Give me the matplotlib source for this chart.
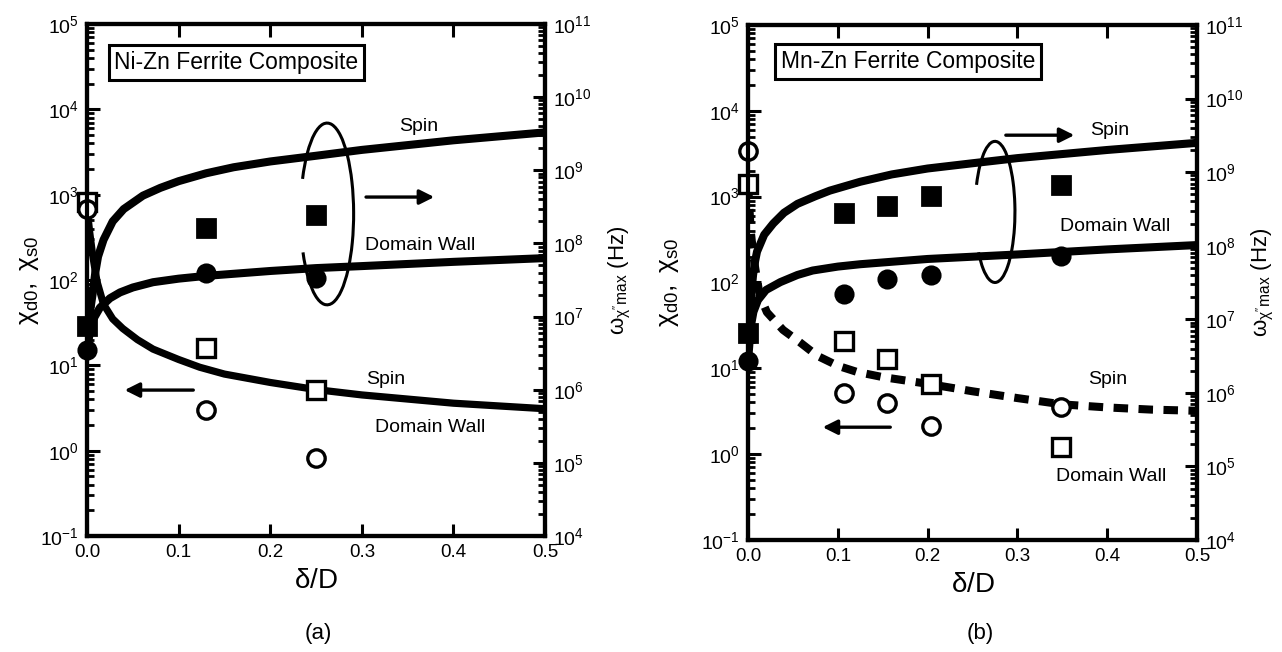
import numpy as np
import matplotlib
matplotlib.use('Agg')
import matplotlib.pyplot as plt
from matplotlib.patches import Arc
from matplotlib.ticker import LogLocator, FuncFormatter, NullFormatter

plt.rcParams['font.family'] = ['Liberation Sans', 'DejaVu Sans']
plt.rcParams['mathtext.fontset'] = 'custom'
plt.rcParams['mathtext.rm'] = 'Liberation Sans'
plt.rcParams['mathtext.it'] = 'Liberation Sans'
plt.rcParams['mathtext.bf'] = 'Liberation Sans:bold'
plt.rcParams['mathtext.default'] = 'regular'

# ---- (a) Ni-Zn ferrite composite ----
# model curves
spin_a_x = [0.0, 0.003, 0.006, 0.009, 0.012, 0.018, 0.028, 0.04, 0.061, 0.08,
            0.1, 0.13, 0.16, 0.2, 0.25, 0.3, 0.4, 0.5]
spin_a_hz = [7.4e6, 1.12e7, 2.0e7, 4.0e7, 6.6e7, 1.12e8, 2.0e8, 2.95e8, 4.5e8, 5.75e8,
             7.1e8, 9.1e8, 1.1e9, 1.32e9, 1.58e9, 1.9e9, 2.57e9, 3.3e9]
dw_a_x = [0.0, 0.003, 0.007, 0.014, 0.025, 0.036, 0.05, 0.072, 0.1, 0.13,
          0.2, 0.25, 0.3, 0.4, 0.5]
dw_a_hz = [3.6e6, 6.0e6, 9.3e6, 1.32e7, 1.78e7, 2.14e7, 2.5e7, 2.95e7, 3.3e7, 3.6e7,
           4.2e7, 4.6e7, 4.9e7, 5.6e7, 6.3e7]
chi_a_x = [0.0, 0.003, 0.006, 0.009, 0.011, 0.018, 0.028, 0.039, 0.055, 0.072,
           0.1, 0.123, 0.15, 0.2, 0.25, 0.3, 0.4, 0.5]
chi_a = [690, 355, 200, 126, 95, 52, 35, 27, 20, 15.5,
         11.7, 9.5, 7.9, 6.3, 5.2, 4.5, 3.6, 3.1]
# measured points
pts_a_x = [0.0, 0.13, 0.25]
chi_dw_a = [810, 16, 5.2]        # open squares
chi_sp_a = [675, 3.0, 0.81]      # open circles
w_dw_a = [7.4e6, 1.62e8, 2.45e8]  # filled squares
w_sp_a = [3.5e6, 4.0e7, 3.4e7]    # filled circles

# ---- (b) Mn-Zn ferrite composite ----
spin_b_x = [0.0, 0.002, 0.004, 0.0056, 0.008, 0.01, 0.018, 0.028, 0.04, 0.055,
            0.075, 0.091, 0.125, 0.16, 0.2, 0.25, 0.3, 0.4, 0.5]
spin_b_hz = [6.6e6, 1.26e7, 2.5e7, 4.0e7, 6.3e7, 8.3e7, 1.41e8, 2.0e8, 2.8e8, 3.7e8,
             4.7e8, 5.6e8, 7.4e8, 9.3e8, 1.12e9, 1.32e9, 1.55e9, 2.0e9, 2.5e9]
dw_b_x = [0.0, 0.003, 0.006, 0.011, 0.02, 0.036, 0.055, 0.072, 0.1, 0.125,
          0.2, 0.3, 0.4, 0.5]
dw_b_hz = [2.7e6, 7.9e6, 1.26e7, 1.82e7, 2.5e7, 3.2e7, 4.0e7, 4.6e7, 5.2e7, 5.6e7,
           6.6e7, 7.6e7, 8.9e7, 1.02e8]
chi_b_x = [0.0, 0.003, 0.006, 0.009, 0.013, 0.021, 0.039, 0.058, 0.077, 0.1,
           0.121, 0.15, 0.2, 0.25, 0.3, 0.35, 0.4, 0.45, 0.5]
chi_b = [1400, 400, 200, 126, 71, 45, 28, 20, 14, 10.7,
         9.1, 7.9, 6.6, 5.4, 4.5, 3.8, 3.5, 3.3, 3.2]
pts_b_x = [0.0, 0.107, 0.155, 0.204, 0.348]
chi_dw_b = [1400, 21, 13, 6.6, 1.2]
chi_sp_b = [3400, 5.1, 3.9, 2.1, 3.5]
w_dw_b = [6.6e6, 2.8e8, 3.5e8, 4.7e8, 6.6e8]
w_sp_b = [2.7e6, 2.2e7, 3.5e7, 4.0e7, 7.2e7]

x_ticks = [0.0, 0.1, 0.2, 0.3, 0.4, 0.5]


def pow_fmt(v, pos):
    return r'$10^{%d}$' % int(round(np.log10(v)))


def setup_axes(ax, ax2):
    ax.set_xlim(0, 0.5)
    ax.set_yscale('log')
    ax.set_ylim(0.1, 1e5)
    ax2.set_yscale('log')
    ax2.set_ylim(1e4, 1e11)
    for a in (ax, ax2):
        a.yaxis.set_major_locator(LogLocator(base=10, numticks=20))
        a.yaxis.set_minor_locator(LogLocator(base=10, subs=np.arange(2, 10), numticks=20))
        a.yaxis.set_major_formatter(FuncFormatter(pow_fmt))
        a.yaxis.set_minor_formatter(NullFormatter())
        for s in a.spines.values():
            s.set_linewidth(3)
    ax.set_xticks(x_ticks)
    ax.set_xticklabels(['%.1f' % t for t in x_ticks])
    ax.tick_params(which='major', direction='in', length=9, width=2.2, labelsize=14,
                   top=True, right=False, pad=6)
    ax.tick_params(which='minor', direction='in', length=5, width=2, top=False, right=False)
    ax.tick_params(axis='x', which='minor', bottom=False)
    ax.tick_params(axis='x', labelsize=13.5)
    ax2.tick_params(which='major', direction='in', length=9, width=2.2, labelsize=14, pad=6)
    ax2.tick_params(which='minor', direction='in', length=5, width=2)
    ax.set_xlabel(r'$\delta$/D', fontsize=20, labelpad=5)
    ax.set_ylabel(r'$\chi_{d0},\ \chi_{s0}$', fontsize=19)
    ax2.set_ylabel(r"$\omega_{\chi^{\prime\prime}max}$ (Hz)", fontsize=16)


def plot_marks(ax, ax2, xs, chi_dw, chi_sp, w_dw, w_sp):
    ax2.plot(xs, w_dw, 's', ms=13, mfc='black', mec='black', mew=2, clip_on=False, zorder=6)
    ax2.plot(xs, w_sp, 'o', ms=12.5, mfc='black', mec='black', mew=2, clip_on=False, zorder=6)
    ax.plot(xs, chi_dw, 's', ms=13, mfc='white', mec='black', mew=2.4, clip_on=False, zorder=6)
    ax.plot(xs, chi_sp, 'o', ms=12.5, mfc='white', mec='black', mew=2.4, clip_on=False, zorder=6)


def arrow(ax, x0, x1, y):
    ax.annotate('', xy=(x1, y), xytext=(x0, y), xycoords='axes fraction',
                arrowprops=dict(arrowstyle='-|>', lw=2.4, color='black', mutation_scale=22))


fig = plt.figure(figsize=(12.82, 6.52), dpi=100)

# panel (a)
ax = fig.add_axes([0.0679, 0.1779, 0.3573, 0.7853])
ax2 = ax.twinx()
ax.patch.set_visible(False)
setup_axes(ax, ax2)
ax2.plot(spin_a_x, spin_a_hz, color='black', lw=5.8, solid_capstyle='butt', zorder=3)
ax2.plot(dw_a_x, dw_a_hz, color='black', lw=5.8, solid_capstyle='butt', zorder=3)
ax.plot(chi_a_x, chi_a, color='black', lw=5.2, solid_capstyle='butt', zorder=3)
plot_marks(ax, ax2, pts_a_x, chi_dw_a, chi_sp_a, w_dw_a, w_sp_a)
ax.yaxis.set_label_coords(-0.10, 0.5)
ax2.yaxis.set_label_coords(1.135, 0.5)

ax.text(0.326, 0.925, 'Ni-Zn Ferrite Composite', transform=ax.transAxes, fontsize=16.5,
        ha='center', va='center',
        bbox=dict(boxstyle='square,pad=0.25', fc='white', ec='black', lw=2.2))
ax.text(0.723, 0.799, 'Spin', transform=ax.transAxes, fontsize=14, ha='center', va='center')
ax.text(0.727, 0.568, 'Domain Wall', transform=ax.transAxes, fontsize=14, ha='center', va='center')
ax.text(0.653, 0.305, 'Spin', transform=ax.transAxes, fontsize=14, ha='center', va='center')
ax.text(0.749, 0.211, 'Domain Wall', transform=ax.transAxes, fontsize=14, ha='center', va='center')
arrow(ax, 0.603, 0.764, 0.662)
arrow(ax, 0.238, 0.076, 0.285)
ax.add_patch(Arc((0.524, 0.629), 0.116, 0.355, theta1=-125, theta2=128,
                 transform=ax.transAxes, lw=2.2, color='black', zorder=5))
fig.text(0.248, 0.029, '(a)', fontsize=16, ha='center', va='center')

# panel (b)
bx = fig.add_axes([0.5835, 0.1718, 0.3502, 0.7899])
bx2 = bx.twinx()
bx.patch.set_visible(False)
setup_axes(bx, bx2)
bx2.plot(spin_b_x, spin_b_hz, color='black', lw=5.8, solid_capstyle='butt', zorder=3)
bx2.plot(dw_b_x, dw_b_hz, color='black', lw=5.8, solid_capstyle='butt', zorder=3)
bx.plot(chi_b_x, chi_b, color='black', lw=5.8, dashes=(1.8, 1.3), dash_capstyle='butt', zorder=3)
plot_marks(bx, bx2, pts_b_x, chi_dw_b, chi_sp_b, w_dw_b, w_sp_b)
bx.yaxis.set_label_coords(-0.149, 0.5)
bx2.yaxis.set_label_coords(1.118, 0.5)

bx.text(0.357, 0.929, 'Mn-Zn Ferrite Composite', transform=bx.transAxes, fontsize=16.5,
        ha='center', va='center',
        bbox=dict(boxstyle='square,pad=0.25', fc='white', ec='black', lw=2.2))
bx.text(0.806, 0.796, 'Spin', transform=bx.transAxes, fontsize=14, ha='center', va='center')
bx.text(0.817, 0.608, 'Domain Wall', transform=bx.transAxes, fontsize=14, ha='center', va='center')
bx.text(0.802, 0.311, 'Spin', transform=bx.transAxes, fontsize=14, ha='center', va='center')
bx.text(0.808, 0.124, 'Domain Wall', transform=bx.transAxes, fontsize=14, ha='center', va='center')
arrow(bx, 0.568, 0.733, 0.786)
arrow(bx, 0.323, 0.160, 0.219)
bx.add_patch(Arc((0.550, 0.637), 0.089, 0.274, theta1=-115, theta2=128,
                 transform=bx.transAxes, lw=2.2, color='black', zorder=5))
fig.text(0.765, 0.029, '(b)', fontsize=16, ha='center', va='center')

fig.savefig('out.png', dpi=100)
